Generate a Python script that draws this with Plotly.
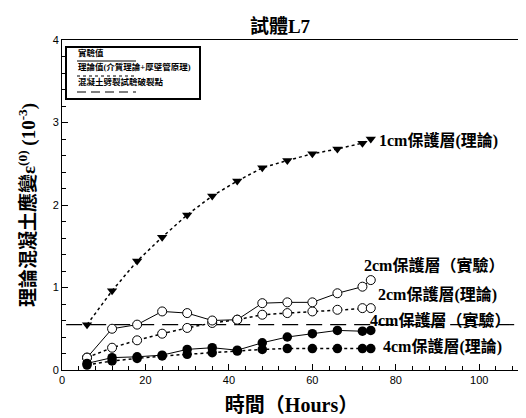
import plotly.graph_objects as go

# ---- data ----
t_1cm_theory = [6, 12, 18, 24, 30, 36, 42, 48, 54, 60, 66, 72, 74]
e_1cm_theory = [0.55, 0.96, 1.32, 1.61, 1.88, 2.11, 2.29, 2.45, 2.54, 2.62, 2.68, 2.75, 2.80]

t_2cm_exp = [6, 12, 18, 24, 30, 36, 42, 48, 54, 60, 66, 72, 74]
e_2cm_exp = [0.15, 0.50, 0.55, 0.71, 0.69, 0.60, 0.61, 0.81, 0.82, 0.82, 0.93, 1.01, 1.09]

t_2cm_theory = [6, 12, 18, 24, 30, 36, 42, 48, 54, 60, 66, 72, 74]
e_2cm_theory = [0.15, 0.27, 0.36, 0.44, 0.51, 0.57, 0.61, 0.67, 0.69, 0.71, 0.73, 0.75, 0.75]

t_4cm_exp = [6, 12, 18, 24, 30, 36, 42, 48, 54, 60, 66, 72, 74]
e_4cm_exp = [0.08, 0.15, 0.16, 0.18, 0.25, 0.27, 0.24, 0.33, 0.40, 0.44, 0.48, 0.47, 0.48]

t_4cm_theory = [6, 12, 18, 24, 30, 36, 42, 48, 54, 60, 66, 72, 74]
e_4cm_theory = [0.06, 0.11, 0.14, 0.17, 0.19, 0.21, 0.23, 0.25, 0.26, 0.26, 0.26, 0.26, 0.26]

crack_strain = 0.55
crack_line_t = [1, 110]

x_range = [0, 110]
y_range = [0, 4]

labels = ["1cm保護層(理論)", "2cm保護層（實驗）", "2cm保護層(理論)", "4cm保護層（實驗）", "4cm保護層(理論)"]
label_pos = [(75.5, 2.78), (71.8, 1.27), (75.2, 0.91), (73.4, 0.61), (76.4, 0.28)]

legend_texts = ["實驗值", "理論值(介質理論+厚壁管原理)", "混凝土劈裂試驗破裂點"]

FONT = "Liberation Serif, Noto Sans CJK TC"

fig = go.Figure()

fig.add_trace(go.Scatter(x=crack_line_t, y=[crack_strain, crack_strain], mode="lines",
                         line=dict(color="black", width=1.2, dash="16px,8px"), showlegend=False))

fig.add_trace(go.Scatter(x=t_1cm_theory, y=e_1cm_theory, mode="lines+markers",
                         line=dict(color="black", width=1.5, dash="dot"),
                         marker=dict(symbol="triangle-down", size=9, color="black"), showlegend=False))
fig.add_trace(go.Scatter(x=t_2cm_theory, y=e_2cm_theory, mode="lines+markers",
                         line=dict(color="black", width=1.5, dash="dot"),
                         marker=dict(symbol="circle", size=9, color="white", line=dict(color="black", width=1)),
                         showlegend=False))
fig.add_trace(go.Scatter(x=t_2cm_exp, y=e_2cm_exp, mode="lines+markers",
                         line=dict(color="black", width=1),
                         marker=dict(symbol="circle", size=9, color="white", line=dict(color="black", width=1)),
                         showlegend=False))
fig.add_trace(go.Scatter(x=t_4cm_theory, y=e_4cm_theory, mode="lines+markers",
                         line=dict(color="black", width=1.5, dash="dot"),
                         marker=dict(symbol="circle", size=9.5, color="black"), showlegend=False))
fig.add_trace(go.Scatter(x=t_4cm_exp, y=e_4cm_exp, mode="lines+markers",
                         line=dict(color="black", width=1),
                         marker=dict(symbol="circle", size=9.5, color="black"), showlegend=False))

annotations = []
for txt, (ax, ay) in zip(labels, label_pos):
    annotations.append(dict(x=ax, y=ay, xref="x", yref="y", text="<b>%s</b>" % txt, showarrow=False,
                            xanchor="left", yanchor="middle", font=dict(family=FONT, size=16, color="black")))

# legend box (drawn), positions in screen pixels relative to plot area (left 62, top 40, bottom 370)
def px_x(p):
    return (p - 62) / 459.0

def px_y(p):
    return (370 - p) / 330.0

shapes = [dict(type="rect", xref="paper", yref="paper", x0=px_x(66), x1=px_x(200), y0=px_y(99), y1=px_y(47),
               line=dict(color="black", width=2), fillcolor="white", layer="above")]
line_styles = ["solid", "dot", "9px,5px"]
text_y = [53, 67, 82]
line_y = [61, 76, 92]
for txt, ty, ly, ls in zip(legend_texts, text_y, line_y, line_styles):
    annotations.append(dict(x=px_x(76), y=px_y(ty), xref="paper", yref="paper", text="<b>%s</b>" % txt,
                            showarrow=False, xanchor="left", yanchor="middle",
                            font=dict(family=FONT, size=8.5, color="black")))
    shapes.append(dict(type="line", xref="paper", yref="paper", x0=px_x(77), x1=px_x(136), y0=px_y(ly), y1=px_y(ly),
                       line=dict(color="black", width=1.2, dash=ls), layer="above"))

# page body has an 8px offset; compensate in margins
fig.update_layout(
    width=526, height=418,
    margin=dict(l=54, r=13, t=32, b=56, autoexpand=False),
    paper_bgcolor="white", plot_bgcolor="white",
    title=dict(text="<b>試體L7</b>", x=0.475, xref="paper", xanchor="center", y=0.957, yanchor="middle",
               font=dict(family=FONT, size=19, color="black")),
    annotations=annotations, shapes=shapes,
    xaxis=dict(range=x_range, dtick=20, tick0=0, ticks="inside", ticklen=6, tickcolor="black",
               showline=True, linecolor="black", linewidth=1, mirror=True, showgrid=False, zeroline=False,
               automargin=False,
               minor=dict(dtick=4, ticks="inside", ticklen=4, tickcolor="black"),
               tickfont=dict(family="Liberation Sans, Arial", size=11, color="black"),
               title=dict(text="<b>時間（Hours）</b>", font=dict(family=FONT, size=20, color="black"), standoff=12)),
    yaxis=dict(range=y_range, dtick=1, tick0=0, ticks="inside", ticklen=6, tickcolor="black",
               showline=True, linecolor="black", linewidth=1, mirror=True, showgrid=False, zeroline=False,
               automargin=False,
               minor=dict(dtick=0.2, ticks="inside", ticklen=4, tickcolor="black"),
               tickfont=dict(family="Liberation Sans, Arial", size=11, color="black"),
               title=dict(text="<b>理論混凝土應變ε<sup>(0)</sup> (10<sup>-3</sup>)</b>",
                          font=dict(family=FONT, size=19, color="black"), standoff=12)),
)

fig.write_html("out.html")
